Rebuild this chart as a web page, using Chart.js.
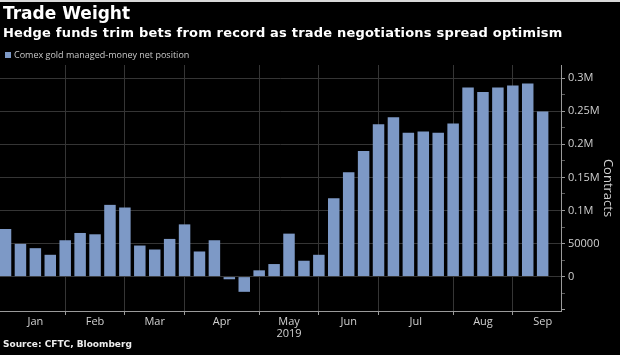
<!DOCTYPE html>
<html><head><meta charset="utf-8">
<script src="https://cdn.jsdelivr.net/npm/chart.js@4.4.0/dist/chart.umd.min.js"></script>
<style>
html,body{margin:0;padding:0;background:#000;width:620px;height:355px;overflow:hidden;}
#wrap{position:relative;width:620px;height:355px;background:#000;}
#topline{position:absolute;left:0;top:0;width:620px;height:2px;background:#d8d8d8;}
.t{position:absolute;left:3px;color:#fff;font-family:"DejaVu Sans",sans-serif;font-weight:bold;white-space:nowrap;line-height:1;}
#title{top:5px;font-size:17px;}
#sub{top:26px;font-size:13px;letter-spacing:0.2px;}
#src{top:340px;font-size:9px;color:#eee;}
#legend{position:absolute;left:5px;top:50px;color:#c8c8c8;font:9px "Open Sans","DejaVu Sans",sans-serif;white-space:nowrap;line-height:10px;}
#legend .sw{display:inline-block;width:6px;height:6px;background:#7d99c6;margin-right:3px;vertical-align:0px;}
canvas{position:absolute;left:0;top:0;}
</style></head>
<body><div id="wrap">
<canvas id="c" width="620" height="355"></canvas>
<div id="topline"></div>
<div class="t" id="title">Trade Weight</div>
<div class="t" id="sub">Hedge funds trim bets from record as trade negotiations spread optimism</div>
<div id="legend"><span class="sw"></span>Comex gold managed-money net position</div>
<div class="t" id="src">Source: CFTC, Bloomberg</div>
</div>
<script>
// Weekly report dates (Fridays) and Comex gold managed-money net position (contracts)
const weekDates = [
  '2019-01-04','2019-01-11','2019-01-18','2019-01-25',
  '2019-02-01','2019-02-08','2019-02-15','2019-02-22',
  '2019-03-01','2019-03-08','2019-03-15','2019-03-22','2019-03-29',
  '2019-04-05','2019-04-12','2019-04-19','2019-04-26',
  '2019-05-03','2019-05-10','2019-05-17','2019-05-24','2019-05-31',
  '2019-06-07','2019-06-14','2019-06-21','2019-06-28',
  '2019-07-05','2019-07-12','2019-07-19','2019-07-26',
  '2019-08-02','2019-08-09','2019-08-16','2019-08-23','2019-08-30',
  '2019-09-06','2019-09-13'
];
const netPosition = [
  72000, 49500, 43000, 33000,
  55000, 66000, 64000, 108500,
  104500, 47000, 41000, 57000, 79000,
  38000, 55000, -4000, -23000,
  9500, 19000, 65000, 24000, 33000,
  118500, 158000, 190000, 230500,
  241000, 217500, 219500, 217500,
  231500, 286000, 279000, 286000, 289000,
  292000, 249500
];
// Month axis: labels, where each label sits and where month gridlines fall (in week-index units)
const monthLabels = ['Jan','Feb','Mar','Apr',['May','2019'],'Jun','Jul','Aug','Sep'];
const monthLabelAt = [2, 6, 10, 14.5, 19, 23, 27.5, 32, 36];
const monthGridAt = [4, 8, 12, 17, 21, 25, 30, 34];
const yMajorLabels = {0:'0', 50000:'50000', 100000:'0.1M', 150000:'0.15M', 200000:'0.2M', 250000:'0.25M', 300000:'0.3M'};

const barColor = '#7d99c6';
const gridColor = '#353535';
const axisColor = '#9a9a9a';
const textColor = '#d0d0d0';
const FONT = '"Open Sans","DejaVu Sans",sans-serif';

const X_MIN = -0.37, X_MAX = 37.23;

new Chart(document.getElementById('c'), {
  type: 'bar',
  data: {
    labels: weekDates,
    datasets: [{
      label: 'Comex gold managed-money net position',
      data: netPosition.map((v, i) => ({x: i, y: v})),
      backgroundColor: barColor,
      borderWidth: 0,
      barPercentage: 0.77,
      categoryPercentage: 1.0,
      xAxisID: 'x',
      yAxisID: 'y'
    }]
  },
  options: {
    responsive: false,
    animation: false,
    devicePixelRatio: 1,
    layout: {padding: {top: 65, bottom: 10, left: 0, right: 0}},
    plugins: {legend: {display: false}, tooltip: {enabled: false}, title: {display: false}},
    scales: {
      x: {
        type: 'linear', position: 'bottom', min: X_MIN, max: X_MAX, offset: false,
        afterBuildTicks: s => { s.ticks = monthGridAt.map(v => ({value: v})); },
        afterFit: s => { s.height = 4; },
        ticks: {display: false},
        grid: {offset: false, color: gridColor, drawTicks: true, tickLength: 4, tickColor: axisColor},
        border: {display: true, color: axisColor, width: 1}
      },
      xm: {
        type: 'linear', position: 'bottom', min: X_MIN, max: X_MAX, offset: false,
        afterBuildTicks: s => { s.ticks = monthLabelAt.map(v => ({value: v})); },
        afterFit: s => { s.height = 30; },
        ticks: {
          autoSkip: false, maxRotation: 0, padding: 1, color: textColor,
          font: {family: FONT, size: 11, lineHeight: 1.1},
          callback: (v, i) => monthLabels[i]
        },
        grid: {display: false, drawTicks: false},
        border: {display: false}
      },
      y: {
        type: 'linear', position: 'right', min: -52000, max: 320000,
        afterBuildTicks: s => {
          const t = [];
          for (let v = -50000; v <= 300000; v += 25000) t.push({value: v});
          s.ticks = t;
        },
        afterFit: s => { s.width = 59; },
        ticks: {
          autoSkip: false, padding: 3, color: textColor,
          font: {family: FONT, size: 11},
          callback: v => (yMajorLabels[v] !== undefined ? yMajorLabels[v] : '')
        },
        grid: {
          drawTicks: true, tickLength: 4,
          color: c => (c.tick && c.tick.value >= 0 && c.tick.value % 50000 === 0) ? gridColor : 'rgba(0,0,0,0)',
          tickColor: c => (c.tick && c.tick.value % 50000 === 0) ? axisColor : '#5a5a5a'
        },
        border: {display: true, color: axisColor, width: 1},
        title: {display: true, text: 'Contracts', color: textColor, font: {family: FONT, size: 13}, padding: {top: 4, bottom: 4}}
      }
    }
  }
});
</script>
</body></html>
